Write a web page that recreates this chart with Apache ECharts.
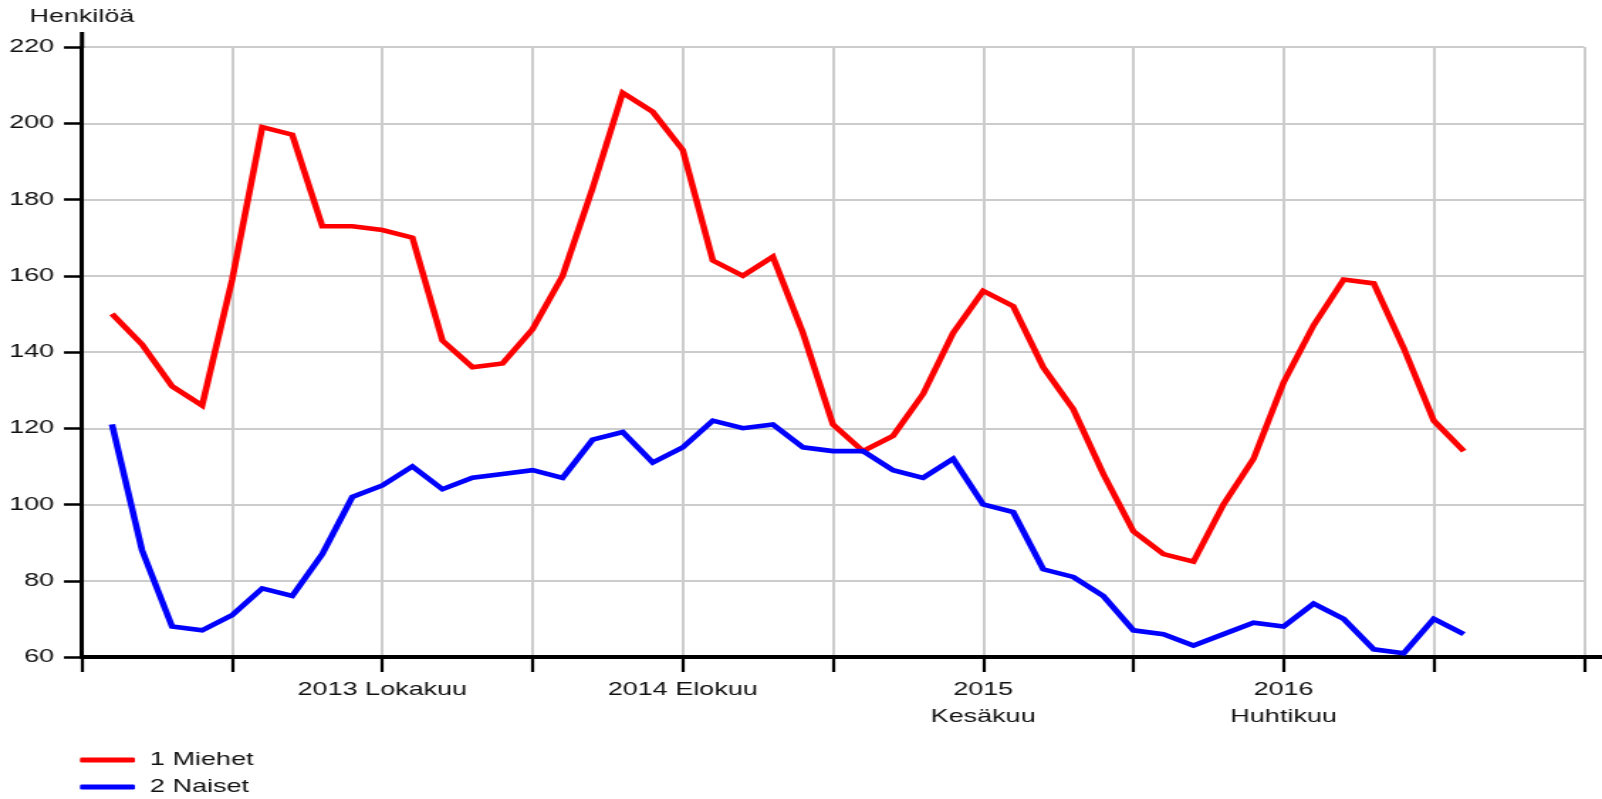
<!DOCTYPE html>
<html>
<head>
<meta charset="utf-8">
<script src="https://cdn.jsdelivr.net/npm/echarts@6/dist/echarts.min.js"></script>
<style>
html, body { margin: 0; padding: 0; background: #fff; overflow: hidden; }
#wrap { width: 1602px; height: 799px; overflow: hidden; }
#c { width: 1128px; height: 799px; transform: scaleX(1.4202); transform-origin: 0 0; }
</style>
</head>
<body>
<div id="wrap"><div id="c"></div></div>
<script>
// Month slots of the horizontal axis (Dec 2012 .. Feb 2017)
const categories = [
  '2012-12',
  '2013-01','2013-02','2013-03','2013-04','2013-05','2013-06','2013-07','2013-08','2013-09','2013-10','2013-11','2013-12',
  '2014-01','2014-02','2014-03','2014-04','2014-05','2014-06','2014-07','2014-08','2014-09','2014-10','2014-11','2014-12',
  '2015-01','2015-02','2015-03','2015-04','2015-05','2015-06','2015-07','2015-08','2015-09','2015-10','2015-11','2015-12',
  '2016-01','2016-02','2016-03','2016-04','2016-05','2016-06','2016-07','2016-08','2016-09','2016-10','2016-11','2016-12',
  '2017-01','2017-02'
];

// Tick labels shown under the axis
const tickLabels = {
  '2013-10': '2013 Lokakuu',
  '2014-08': '2014 Elokuu',
  '2015-06': '2015\nKesäkuu',
  '2016-04': '2016\nHuhtikuu'
};

// Months that carry data (Jan 2013 .. Oct 2016)
const dataMonths = categories.slice(1, 47);

// 1 Miehet
const miehet = [
  150, 142, 131, 126, 159, 199, 197, 173, 173, 172, 170, 143,
  136, 137, 146, 160, 183, 208, 203, 193, 164, 160, 165, 145,
  121, 114, 118, 129, 145, 156, 152, 136, 125, 108, 93, 87,
  85, 100, 112, 132, 147, 159, 158, 141, 122, 114
];

// 2 Naiset
const naiset = [
  121, 88, 68, 67, 71, 78, 76, 87, 102, 105, 110, 104,
  107, 108, 109, 107, 117, 119, 111, 115, 122, 120, 121, 115,
  114, 114, 109, 107, 112, 100, 98, 83, 81, 76, 67, 66,
  63, 66, 69, 68, 74, 70, 62, 61, 70, 66
];

const seriesNames = ['1 Miehet', '2 Naiset'];
const seriesColors = ['#ff0000', '#0000ff'];
const yMin = 60, yMax = 220, yStep = 20;
const FONT = "'Liberation Sans', Arial, sans-serif";
const TEXT = '#111111';

const el = document.getElementById('c');
const chart = echarts.init(el, null, { renderer: 'canvas', width: 1128, height: 799 });

const option = {
  animation: false,
  backgroundColor: '#ffffff',
  grid: { left: 57.7, right: 12.7, top: 47, bottom: 142, containLabel: false },
  legend: {
    orient: 'vertical',
    left: 56.3,
    top: 750,
    itemWidth: 38.7,
    itemHeight: 5,
    itemGap: 7,
    icon: 'roundRect',
    padding: 0,
    textStyle: { fontFamily: FONT, fontSize: 19, color: TEXT, lineHeight: 20, padding: [0, 0, 0, 5.6] },
    data: seriesNames
  },
  xAxis: {
    type: 'category',
    data: categories,
    boundaryGap: false,
    axisLine: { show: true, lineStyle: { color: '#000', width: 4 } },
    axisTick: {
      show: true,
      length: 15,
      interval: (i) => i % 5 === 0,
      lineStyle: { color: '#000', width: 2.2 }
    },
    axisLabel: {
      interval: (i, v) => Object.prototype.hasOwnProperty.call(tickLabels, v),
      formatter: (v) => tickLabels[v] || '',
      fontFamily: FONT,
      fontSize: 19,
      color: TEXT,
      lineHeight: 27,
      margin: 19
    },
    splitLine: {
      show: true,
      interval: (i) => i % 5 === 0 && i > 0,
      lineStyle: { color: '#cccccc', width: 2 }
    }
  },
  yAxis: {
    type: 'value',
    min: yMin,
    max: yMax,
    interval: yStep,
    name: 'Henkilöä',
    nameLocation: 'end',
    nameGap: 21,
    nameTextStyle: { fontFamily: FONT, fontSize: 19, color: TEXT, lineHeight: 19 },
    axisLine: { show: true, lineStyle: { color: '#000', width: 3 } },
    axisTick: { show: true, length: 12.7, lineStyle: { color: '#000', width: 2.5 } },
    axisLabel: { fontFamily: FONT, fontSize: 19, color: TEXT, margin: 19.6 },
    splitLine: { show: true, lineStyle: { color: '#cccccc', width: 2 } }
  },
  series: [
    {
      name: seriesNames[0],
      type: 'line',
      data: miehet.map((v, i) => [dataMonths[i], v]),
      showSymbol: false,
      symbol: 'none',
      color: seriesColors[0],
      lineStyle: { color: seriesColors[0], width: 4.6, join: 'miter' },
      z: 3
    },
    {
      name: seriesNames[1],
      type: 'line',
      data: naiset.map((v, i) => [dataMonths[i], v]),
      showSymbol: false,
      symbol: 'none',
      color: seriesColors[1],
      lineStyle: { color: seriesColors[1], width: 4.6, join: 'miter' },
      z: 4
    }
  ]
};

chart.setOption(option);

// Axis-line overhangs (above the top value, right of the last slot)
const pTop = chart.convertToPixel({ xAxisIndex: 0, yAxisIndex: 0 }, [categories[0], yMax]);
const pEnd = chart.convertToPixel({ xAxisIndex: 0, yAxisIndex: 0 }, [categories[categories.length - 1], yMin]);
chart.setOption({
  graphic: [
    { type: 'line', z: 100, shape: { x1: pTop[0], y1: pTop[1] + 1, x2: pTop[0], y2: pTop[1] - 15 }, style: { stroke: '#000', lineWidth: 3 } },
    { type: 'line', z: 100, shape: { x1: pEnd[0] - 1, y1: pEnd[1], x2: 1128, y2: pEnd[1] }, style: { stroke: '#000', lineWidth: 4 } }
  ]
});
</script>
</body>
</html>
